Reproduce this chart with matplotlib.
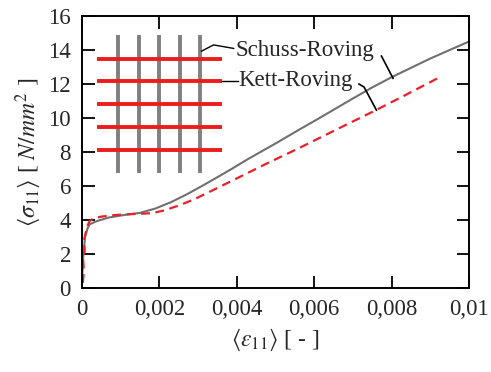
import matplotlib
matplotlib.use("Agg")
from matplotlib import pyplot as plt
from matplotlib.ticker import FuncFormatter, MultipleLocator

# strain / stress values
schuss_eps = [0.00001, 0.00003, 0.00008, 0.00015, 0.0002, 0.0004, 0.0007, 0.0011, 0.0015,
              0.0019, 0.0023, 0.0027, 0.0031, 0.0035, 0.0039, 0.0043, 0.0050, 0.0056,
              0.0061, 0.0070, 0.0075, 0.0080, 0.0085, 0.0090, 0.0095, 0.0100]
schuss_sig = [0.9, 1.8, 3.0, 3.55, 3.75, 3.95, 4.15, 4.3, 4.42,
              4.68, 5.05, 5.5, 6.0, 6.52, 7.05, 7.6, 8.5, 9.3,
              9.95, 11.15, 11.8, 12.4, 12.95, 13.5, 14.0, 14.5]

kett_eps = [0.00002, 0.00005, 0.00003, 0.00007, 0.00005, 0.0001, 0.00015, 0.0002, 0.0003,
            0.0005, 0.0008, 0.0011, 0.0015, 0.0018, 0.0021, 0.0025, 0.0029, 0.0032,
            0.0040, 0.0047, 0.0056, 0.0066, 0.0076, 0.0084, 0.0092]
kett_sig = [0.3, 1.0, 1.6, 2.2, 2.8, 3.3, 3.7, 3.95, 4.1,
            4.2, 4.28, 4.33, 4.37, 4.4, 4.55, 4.85, 5.22, 5.55,
            6.45, 7.24, 8.22, 9.35, 10.47, 11.4, 12.35]

labels = ["Schuss-Roving", "Kett-Roving"]

plt.rcParams['font.family'] = ['Liberation Serif', 'DejaVu Serif']
plt.rcParams['mathtext.fontset'] = 'stix'
fs = 16.5
txt = '#262626'
plt.rcParams['font.size'] = fs

fig = plt.figure(figsize=(4.91, 3.72), dpi=100)
ax = fig.add_axes([0.167, 0.2258, 0.788, 0.731])

ax.plot(schuss_eps, schuss_sig, color='#707070', lw=1.5)
ax.plot(kett_eps, kett_sig, color='#e8202a', lw=1.6, dashes=(4, 2.5))

# little fabric sketch (axes fractions)
for xv in [0.094, 0.148, 0.200, 0.253, 0.306]:
    ax.plot([xv, xv], [0.423, 0.930], transform=ax.transAxes, color='#808080', lw=2.8,
            solid_capstyle='butt')
for yh in [0.841, 0.761, 0.675, 0.593, 0.507]:
    ax.plot([0.038, 0.361], [yh, yh], transform=ax.transAxes, color='#ee1c1c', lw=2.8,
            solid_capstyle='butt')

# labels and pointer lines
ax.text(0.398, 0.872, labels[0], transform=ax.transAxes, va='center', ha='left',
        fontsize=fs, color=txt)
ax.text(0.404, 0.763, labels[1], transform=ax.transAxes, va='center', ha='left',
        fontsize=fs, color=txt)
ax.plot([0.309, 0.340, 0.392], [0.871, 0.894, 0.881], transform=ax.transAxes, color='k', lw=1.0)
ax.plot([0.362, 0.402], [0.761, 0.761], transform=ax.transAxes, color='k', lw=1.0)
ax.plot([0.774, 0.804], [0.853, 0.771], transform=ax.transAxes, color='k', lw=1.2)
ax.plot([0.716, 0.729, 0.761], [0.750, 0.739, 0.654], transform=ax.transAxes, color='k', lw=1.2)

ax.set_xlim(0, 0.01)
ax.set_ylim(0, 16)
ax.xaxis.set_major_locator(MultipleLocator(0.002))
ax.yaxis.set_major_locator(MultipleLocator(2))
ax.xaxis.set_major_formatter(FuncFormatter(lambda v, p: f'{v:g}'.replace('.', ',')))
ax.tick_params(direction='in', length=9, width=1.3, top=True, right=True, pad=8,
               labelsize=fs, labelcolor=txt)
for s in ax.spines.values():
    s.set_linewidth(1.4)

ax.set_xlabel(r'$\langle\varepsilon_{11}\rangle$ [ - ]', fontsize=17, labelpad=5, color=txt)
ax.set_ylabel(r'$\langle\sigma_{11}\rangle$ [ $N/mm^2$ ]', fontsize=17, labelpad=4, color=txt)

fig.savefig('out.png', dpi=100)
